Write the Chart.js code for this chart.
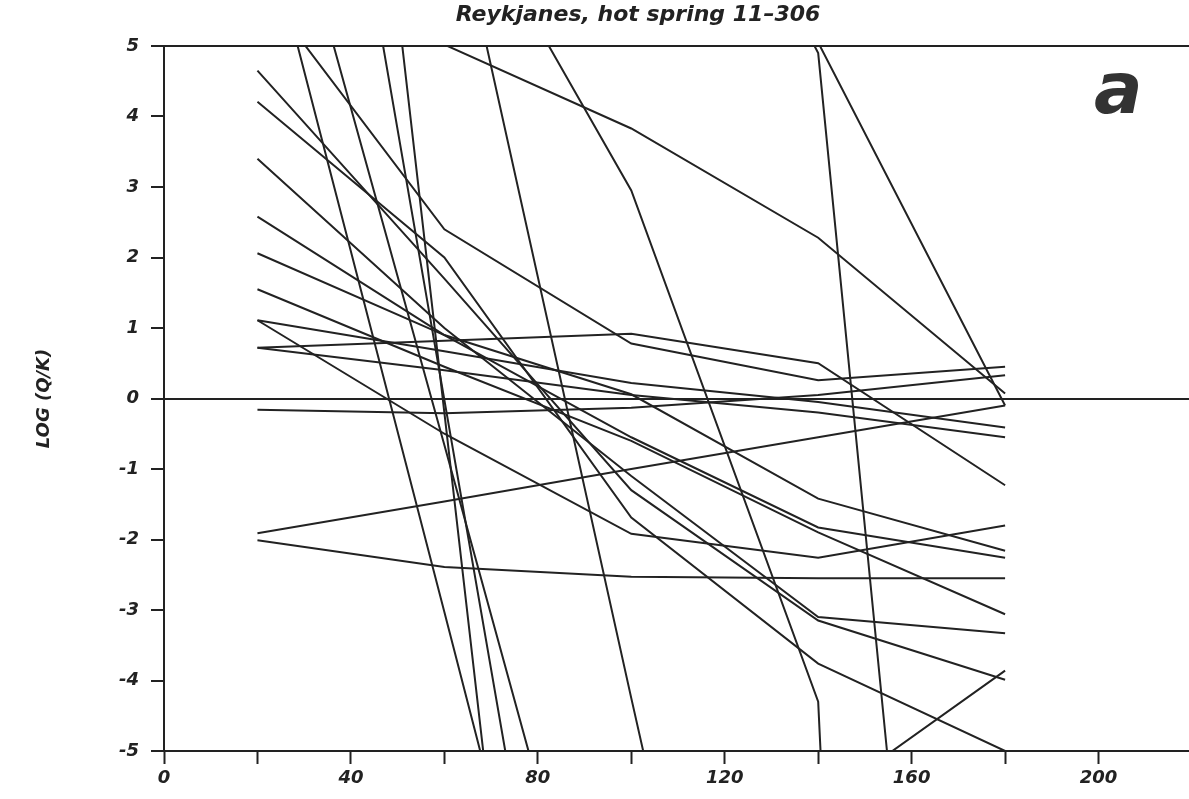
<!DOCTYPE html>
<html>
<head>
<meta charset="utf-8">
<script src="https://cdn.jsdelivr.net/npm/chart.js@4.4.1/dist/chart.umd.min.js"></script>
<style>
  html, body { margin: 0; padding: 0; background: #fff; overflow: hidden; }
  #wrap { position: relative; width: 1196px; height: 799px; }
</style>
</head>
<body>
<div id="wrap"><canvas id="chart"></canvas></div>
<script>
// temperatures (deg C) at which log(Q/K) was computed
const temperatures = [20, 60, 100, 140, 180];

// log(Q/K) per mineral, values at 20, 60, 100, 140, 180 C (off-scale values clipped)
const lineS   = [6.3, 5.02, 3.83, 2.28, 0.07];
const lineX   = [14, 9, 6.5, 5.05, -0.1];
const lineY   = [20, 15, 10, 4.9, -22];
const lineP   = [12, 7.6, 2.95, -4.3, -60];
const lineQ   = [18, 7.7, -4.25, -16, -28];
const lineZ   = [-20, -15, -10, -5.75, -3.86];
const lineT   = [-1.91, -1.46, -1.0, -0.55, -0.1];
const lineF   = [-0.16, -0.21, -0.13, 0.05, 0.33];
const lineR1  = [0.72, 0.82, 0.92, 0.5, -1.23];
const lineR2  = [5.9, 2.4, 0.78, 0.26, 0.45];
const lineG   = [1.11, 0.67, 0.22, -0.05, -0.41];
const lineG2  = [0.72, 0.4, 0.05, -0.2, -0.55];
const lineL1  = [4.65, 1.7, -1.3, -3.15, -3.99];
const lineW   = [4.21, 2.0, -1.69, -3.76, -5.0];
const lineE   = [2.58, 0.9, -0.55, -1.83, -2.26];
const lineD   = [2.06, 0.9, 0.06, -1.42, -2.16];
const lineK   = [3.40, 1.0, -1.1, -3.1, -3.33];
const lineM   = [1.55, 0.45, -0.6, -1.9, -3.06];
const lineH   = [1.11, -0.5, -1.92, -2.26, -1.8];
const lineB   = [-2.01, -2.39, -2.53, -2.55, -2.55];
const steepA  = [7.2, -3.03, -13.3, -23.5, -33.8];
const steepB  = [22.9, -0.2, -23.3, -46, -69];
const steepC  = [15.3, -0.02, -15.3, -30.6, -46];
const steepD  = [8.9, -0.66, -10.3, -20, -29.6];

const allLines = [lineS, lineX, lineY, lineP, lineQ, lineZ, lineT, lineF, lineR1, lineR2,
  lineG, lineG2, lineL1, lineW, lineE, lineD, lineK, lineM, lineH, lineB,
  steepA, steepB, steepC, steepD];

const xLabelled = [0, 40, 80, 120, 160, 200];
const titleText = 'Reykjanes, hot spring 11\u2013306';
const panelLetter = 'a';

const ink = '#222';
const tickFont = { family: 'DejaVu Sans', size: 18, style: 'italic', weight: 'bold' };

const datasets = allLines.map(vals => ({
  data: vals.map((v, i) => ({ x: temperatures[i], y: v })),
  borderColor: ink,
  borderWidth: 2,
  pointRadius: 0,
  fill: false,
  tension: 0
}));

// title and panel letter drawn on the canvas
const labelsPlugin = {
  id: 'labels',
  afterDraw(chart) {
    const c = chart.ctx;
    c.save();
    c.fillStyle = ink;
    c.font = 'italic bold 22px "DejaVu Sans"';
    c.textAlign = 'center';
    c.textBaseline = 'middle';
    c.fillText(titleText, 638, 15);
    c.fillStyle = '#333';
    c.font = 'italic bold 72px "DejaVu Sans"';
    c.textAlign = 'left';
    c.textBaseline = 'alphabetic';
    c.fillText(panelLetter, 1094, 113);
    c.restore();
  }
};

new Chart(document.getElementById('chart'), {
  type: 'line',
  data: { datasets },
  options: {
    responsive: true,
    maintainAspectRatio: false,
    animation: false,
    devicePixelRatio: 1,
    layout: { padding: { top: 46, left: 0, right: 0, bottom: 0 } },
    plugins: { legend: { display: false }, tooltip: { enabled: false } },
    scales: {
      x: {
        type: 'linear',
        min: 0, max: 220,
        afterFit: s => { s.height = 48; },
        border: { display: true, color: ink, width: 2 },
        grid: { drawOnChartArea: false, tickLength: 13, tickWidth: 2, tickColor: ink },
        ticks: {
          stepSize: 20, padding: 4, color: ink, font: tickFont, maxRotation: 0,
          autoSkip: false,
          callback: v => xLabelled.includes(v) ? String(v) : ''
        }
      },
      x2: {
        type: 'linear', position: 'top',
        min: 0, max: 220,
        afterFit: s => { s.height = 0; },
        border: { display: true, color: ink, width: 2 },
        grid: { drawOnChartArea: false, drawTicks: false },
        ticks: { display: false }
      },
      y: {
        min: -5, max: 5,
        afterFit: s => { s.width = 164; },
        border: { display: true, color: ink, width: 2 },
        grid: {
          drawOnChartArea: true,
          color: ctx => ctx.tick && ctx.tick.value === 0 ? ink : 'rgba(0,0,0,0)',
          lineWidth: 2,
          tickLength: 13, tickWidth: 2, tickColor: ink
        },
        ticks: { stepSize: 1, padding: 12, color: ink, font: tickFont },
        title: {
          display: true, text: 'LOG (Q/K)', color: ink,
          font: { family: 'DejaVu Sans', size: 18, style: 'italic', weight: 'bold' },
          padding: { top: 34, bottom: 0 }
        }
      }
    }
  },
  plugins: [labelsPlugin]
});
</script>
</body>
</html>
